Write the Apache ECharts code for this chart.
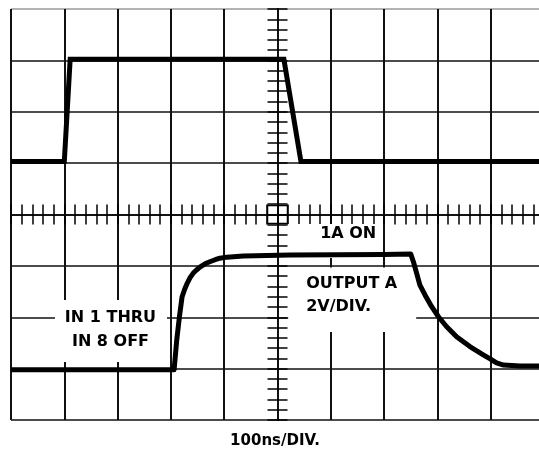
<!DOCTYPE html>
<html>
<head>
<meta charset="utf-8">
<script src="https://cdn.jsdelivr.net/npm/echarts@6/dist/echarts.min.js"></script>
<style>
  html, body { margin: 0; padding: 0; background: #fff; }
  #chart { width: 539px; height: 454px; }
</style>
</head>
<body>
<div id="chart"></div>
<script>
// Scope traces: time in ns from screen centre, level in vertical divisions.
const inputTime  = [-500, -400, -389, 12, 44, 500];
const inputLevel = [1.03, 1.03, 3.02, 3.02, 1.03, 1.03];

const outputTime  = [-500, -194, -189, -184, -179, -174, -169, -164, -158, -152, -145, -136, -127, -117, -108, -95, -64, 24, 200, 250,
                     255, 261, 267, 277, 289, 302, 317, 336, 361, 386, 399, 411, 424, 455, 500];
const outputLevel = [-3.02, -3.02, -2.44, -1.99, -1.60, -1.45, -1.33, -1.23, -1.14, -1.08, -1.02, -0.96, -0.92, -0.88, -0.85, -0.83, -0.81, -0.79, -0.78, -0.77,
                     -0.92, -1.14, -1.37, -1.57, -1.79, -1.99, -2.18, -2.38, -2.57, -2.73, -2.81, -2.89, -2.93, -2.95, -2.95];

// Graticule: 10 x 8 divisions, 5 minor marks per division on the centre lines.
const timeRange = [-500, 500];
const levelRange = [-4, 4];
const timeDiv = 100;
const levelDiv = 1;
const timeScaleLabel = '100ns/DIV.';

// Annotation texts and where their boxes are pinned (top-left corner, data units)
const noteLines  = [['1A ON'], ['OUTPUT A', '2V/DIV.'], ['IN 1 THRU', 'IN 8 OFF']];
const noteAnchor = [[20, -0.185], [20, -1.032], [-417.5, -1.664]];

const ink = '#000';
const font = 'DejaVu Sans';
const pairs = (xs, ys) => xs.map((x, i) => [x, ys[i]]);

// Box geometry in pixels for each annotation
const noteBox = [
  { w: 94,  h: 34,   tx: 32,   ty: 10,   lh: 0,    align: 'left' },
  { w: 128, h: 64.5, tx: 18,   ty: 16.5, lh: 22.7, align: 'left' },
  { w: 112, h: 62,   tx: 55.5, ty: 17.7, lh: 24,   align: 'center' }
];

// horizontal graticule lines, bottom to top; the top edge is lighter
const levelLineColors = [];
for (let v = levelRange[0]; v <= levelRange[1]; v += levelDiv) {
  levelLineColors.push(v === levelRange[1] ? '#9a9a9a' : '#111');
}

function centreTimeAxis(inside) {
  return {
    type: 'value', min: timeRange[0], max: timeRange[1], interval: timeDiv / 5,
    position: 'bottom',
    axisLine: { show: true, onZero: true, onZeroAxisIndex: 0, lineStyle: { color: '#111', width: 1.5 } },
    axisTick: { show: true, inside: inside, length: 10, lineStyle: { color: ink, width: 1.5 } },
    axisLabel: { show: false },
    splitLine: { show: false }
  };
}
function centreLevelAxis(inside) {
  return {
    type: 'value', min: levelRange[0], max: levelRange[1], interval: levelDiv / 5,
    position: 'left',
    axisLine: { show: true, onZero: true, onZeroAxisIndex: 0, lineStyle: { color: '#111', width: 2 } },
    axisTick: { show: true, inside: inside, length: 10, lineStyle: { color: ink, width: 1.5 } },
    axisLabel: { show: false },
    splitLine: { show: false }
  };
}

const chart = echarts.init(document.getElementById('chart'), null, { renderer: 'canvas' });
chart.setOption({
  animation: false,
  backgroundColor: '#fff',
  grid: { left: 11, top: 9, right: -5, bottom: 34, containLabel: false, outerBoundsMode: 'none' },
  xAxis: [
    {
      type: 'value', min: timeRange[0], max: timeRange[1], interval: timeDiv,
      axisLine: { show: false, onZero: false },
      axisTick: { show: false },
      axisLabel: { show: false },
      splitLine: { show: true, lineStyle: { color: '#111', width: 2 } },
      name: timeScaleLabel, nameLocation: 'middle', nameGap: 14,
      nameTextStyle: { color: ink, fontFamily: font, fontWeight: 'bold', fontSize: 15, padding: [0, 5, 0, 0] }
    },
    centreTimeAxis(false),
    centreTimeAxis(true)
  ],
  yAxis: [
    {
      type: 'value', min: levelRange[0], max: levelRange[1], interval: levelDiv,
      axisLine: { show: false, onZero: false },
      axisTick: { show: false },
      axisLabel: { show: false },
      splitLine: { show: true, lineStyle: { color: levelLineColors, width: 1.5 } }
    },
    centreLevelAxis(false),
    centreLevelAxis(true)
  ],
  series: [
    {
      // centre marker box
      type: 'custom', xAxisIndex: 0, yAxisIndex: 0, z: 3, silent: true,
      data: [[0, 0]],
      renderItem: function (params, api) {
        const p = api.coord([api.value(0), api.value(1)]);
        return {
          type: 'rect',
          shape: { x: p[0] - 10, y: p[1] - 9, width: 20, height: 18 },
          style: { fill: null, stroke: ink, lineWidth: 1.5 }
        };
      }
    },
    {
      // annotation boxes, white so the graticule stops behind the text
      type: 'custom', xAxisIndex: 0, yAxisIndex: 0, z: 4, silent: true,
      data: noteAnchor.map((a, i) => [a[0], a[1], i]),
      renderItem: function (params, api) {
        const i = api.value(2);
        const b = noteBox[i];
        const p = api.coord([api.value(0), api.value(1)]);
        const children = [{
          type: 'rect',
          shape: { x: p[0], y: p[1], width: b.w, height: b.h },
          style: { fill: '#fff', stroke: null }
        }];
        noteLines[i].forEach((line, k) => {
          children.push({
            type: 'text',
            style: {
              text: line, x: p[0] + b.tx, y: p[1] + b.ty + k * b.lh,
              fill: ink, font: 'bold 16px "' + font + '"',
              align: b.align, verticalAlign: 'middle'
            }
          });
        });
        return { type: 'group', children: children };
      }
    },
    {
      name: 'IN', type: 'line', xAxisIndex: 0, yAxisIndex: 0, z: 10, silent: true,
      symbol: 'none', data: pairs(inputTime, inputLevel),
      lineStyle: { color: ink, width: 5, join: 'miter', cap: 'butt' }
    },
    {
      name: 'OUTPUT A', type: 'line', xAxisIndex: 0, yAxisIndex: 0, z: 10, silent: true,
      symbol: 'none', data: pairs(outputTime, outputLevel),
      lineStyle: { color: ink, width: 5, join: 'round', cap: 'butt' }
    }
  ]
});
</script>
</body>
</html>
